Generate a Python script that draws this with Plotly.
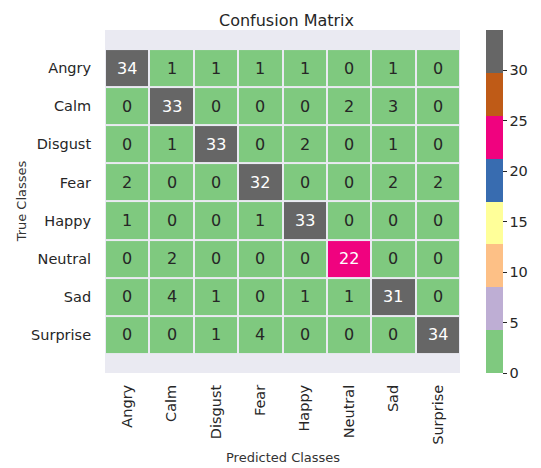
import plotly.graph_objects as go

# Etiquetas de clases
clases = ["Angry", "Calm", "Disgust", "Fear", "Happy", "Neutral", "Sad", "Surprise"]

# Matriz de confusion (filas = clase real, columnas = prediccion)
matriz = [
    [34, 1, 1, 1, 1, 0, 1, 0],
    [0, 33, 0, 0, 0, 2, 3, 0],
    [0, 1, 33, 0, 2, 0, 1, 0],
    [2, 0, 0, 32, 0, 0, 2, 2],
    [1, 0, 0, 1, 33, 0, 0, 0],
    [0, 2, 0, 0, 0, 22, 0, 0],
    [0, 4, 1, 0, 1, 1, 31, 0],
    [0, 0, 1, 4, 0, 0, 0, 34],
]

ticks_cbar = [0, 5, 10, 15, 20, 25, 30]

# Paleta "Accent" en 8 bandas
colores = ["#7fc97f", "#beaed4", "#fdc086", "#ffff99",
           "#386cb0", "#f0027f", "#bf5b17", "#666666"]
zmin, zmax = 0, 34
n = len(colores)
escala = []
for i, c in enumerate(colores):
    escala.append([i / n, c])
    escala.append([(i + 1) / n, c])


def luminancia(hexc):
    r, g, b = [int(hexc[k:k + 2], 16) / 255 for k in (1, 3, 5)]
    lin = [v / 12.92 if v <= 0.03928 else ((v + 0.055) / 1.055) ** 2.4 for v in (r, g, b)]
    return 0.2126 * lin[0] + 0.7152 * lin[1] + 0.0722 * lin[2]


# La pagina tiene 8px de margen en el body: la figura se reduce para compensar
off = 8
W, H = 541 - off, 468 - off
izq, der, arr, aba = 105 - off, 468 - off, 30 - off, 373 - off

fig = go.Figure()
fig.add_trace(go.Heatmap(
    z=matriz,
    x=list(range(len(clases))),
    y=list(range(len(clases))),
    colorscale=escala,
    zmin=zmin,
    zmax=zmax,
    xgap=2,
    ygap=2,
    hoverinfo="z",
    colorbar=dict(
        thickness=17,
        len=1,
        x=(495 - 105) / (468 - 105),
        xanchor="left",
        xpad=0,
        ypad=0,
        y=1,
        yanchor="top",
        outlinewidth=0,
        tickvals=ticks_cbar,
        ticks="outside",
        ticklen=4,
        tickcolor="#262626",
        tickfont=dict(size=14.5, color="#262626"),
    ),
))

# Anotaciones con el valor de cada celda
for i, fila in enumerate(matriz):
    for j, v in enumerate(fila):
        idx = min(int((v - zmin) / (zmax - zmin) * n), n - 1)
        color_txt = "#262626" if luminancia(colores[idx]) > 0.408 else "white"
        fig.add_annotation(x=j, y=i, text=str(v), showarrow=False,
                           font=dict(size=16, color=color_txt))

# Titulos de ejes
fig.add_annotation(text="Predicted Classes", xref="paper", yref="paper",
                   x=0.5, y=-(457 - 373) / (373 - 30), yanchor="middle", showarrow=False,
                   font=dict(size=13, color="#333333"))
fig.add_annotation(text="True Classes", xref="paper", yref="paper",
                   x=-(105 - 20) / (468 - 105), y=0.5, xanchor="center", textangle=-90,
                   showarrow=False, font=dict(size=13, color="#333333"))

fig.update_layout(
    width=W,
    height=H,
    margin=dict(l=izq, r=W - der, t=arr, b=H - aba),
    paper_bgcolor="white",
    plot_bgcolor="#eaeaf2",
    font=dict(family="DejaVu Sans", color="#262626"),
    title=dict(text="Confusion Matrix", x=(izq + der) / 2 / W, xanchor="center",
               y=1 - (20 - off) / H, yanchor="middle", font=dict(size=16, color="#262626")),
    showlegend=False,
)
fig.update_xaxes(
    tickvals=list(range(len(clases))),
    ticktext=clases,
    tickangle=-90,
    tickfont=dict(size=14.5, color="#262626"),
    range=[-0.5, 7.5],
    showgrid=False,
    zeroline=False,
    ticks="outside",
    ticklen=5,
    tickcolor="rgba(0,0,0,0)",
    automargin=False,
)
fig.update_yaxes(
    tickvals=list(range(len(clases))),
    ticktext=clases,
    tickfont=dict(size=14.5, color="#262626"),
    range=[8, -1],
    showgrid=False,
    zeroline=False,
    ticks="outside",
    ticklen=10,
    tickcolor="rgba(0,0,0,0)",
    automargin=False,
)

fig.write_html("out.html")
